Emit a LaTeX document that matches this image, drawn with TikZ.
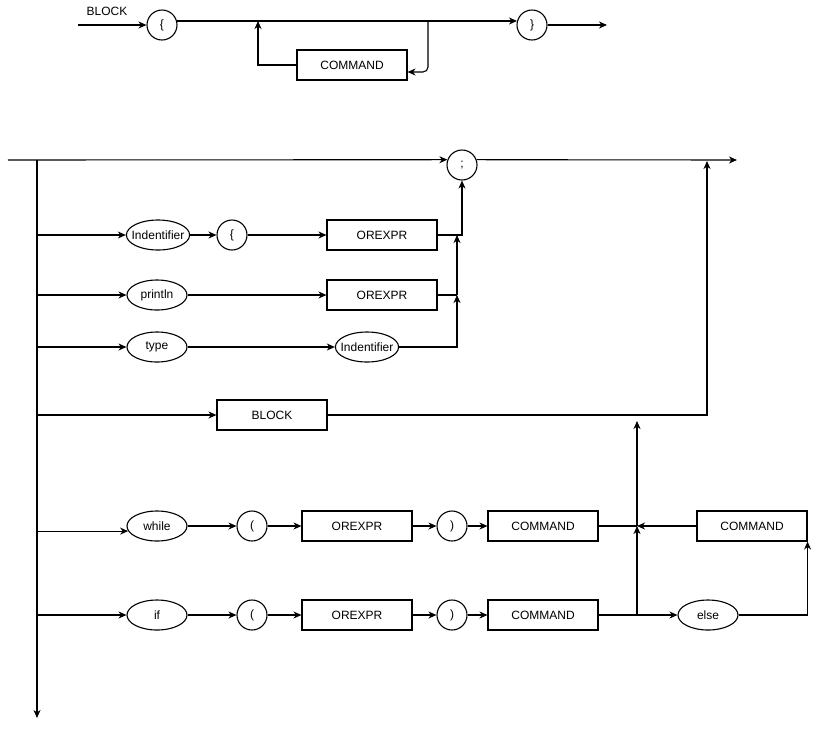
\documentclass[tikz,border=0pt]{standalone}
\usepackage{fontspec}
\setmainfont{Liberation Sans}
\usepackage{tikz}
\usetikzlibrary{arrows.meta,shapes}
\usetikzlibrary{positioning}
\usetikzlibrary{calc}
\tikzset{
    >={Stealth[length=8pt,width=7pt,inset=2.5pt]},
    term/.style={draw=black, ellipse, minimum width=60pt, minimum height=30pt,
        inner xsep=-4pt, inner ysep=0pt},
    sym/.style={draw=black, circle, minimum size=30pt, inner sep=0pt},
    nonterm/.style={draw=black, rectangle, minimum width=110pt, minimum height=30pt,
        inner sep=0pt},
}

\begin{document}
\begin{tikzpicture}[x=1pt, y=-1pt, line width=1.1pt,
    font=\fontsize{12}{14}\selectfont]
\useasboundingbox (0,0) rectangle (816,729);
% BLOCK
\node (blk) at (107,11) {BLOCK};
\coordinate (in0) at (78,25);
\coordinate (out0) at (607,25);
\node[sym] (lbr) at (162,25) {\{};
\node[sym] (rbr) at (532,25) {\}};
\node[nonterm] (cmd0) at (352,65) {COMMAND};
\coordinate (j1) at (428,21);
\coordinate (j2) at (258,21);
\draw[->] (in0) -- (lbr.west);
\draw[->] (lbr.15) -- (rbr.165);
\draw[->] (rbr.east) -- (out0);
\draw[->, rounded corners=5pt] (j1) |- ($(cmd0.east)+(0,7)$);
\draw[->] (cmd0.west) -| (j2);
% COMMAND
\coordinate (s0) at (8,160);
\coordinate (s1) at (737,160);
\coordinate (t0) at (37,160);
\coordinate (t1) at (37,718);
\node[sym] (semi) at (462,165) {;};
\draw[->] (s0) -- (semi.160);
\draw[->] (semi.20) -- (s1);
\draw[->] (t0) -- (t1);
% assignment
\node[term] (id1) at (158,235) {Indentifier};
\node[sym] (lbr2) at (232,235) {\{};
\node[nonterm] (orx1) at (382,235) {OREXPR};
\draw[->] (id1.west -| t0) -- (id1.west);
\draw[->] (id1) -- (lbr2);
\draw[->] (lbr2) -- (orx1);
% println
\node[term] (prn) at (157,295) {println};
\node[nonterm] (orx2) at (382,295) {OREXPR};
\draw[->] (prn.west -| t0) -- (prn.west);
\draw[->] (prn) -- (orx2);
% type
\node[term] (typ) at (157,347) {type};
\node[term] (id2) at (367,347) {Indentifier};
\draw[->] (typ.west -| t0) -- (typ.west);
\draw[->] (typ) -- (id2);
\coordinate (m1) at (457,235);
\coordinate (m2) at (457,295);
\draw[->] (id2.east) -| (m2);
\draw (orx2.east) -- (m2);
\draw[->] (m2) -- (m1);
\draw (orx1.east) -- (m1);
\draw[->] (m1) -| (semi.south);
% block
\node[nonterm] (blkbox) at (272,415) {BLOCK};
\coordinate (b1) at (707,161);
\draw[->] (blkbox.west -| t0) -- (blkbox.west);
\draw[->] (blkbox.east) -| (b1);
% while
\node[term] (wh) at (157,526) {while};
\node[sym] (wlp) at (252,526) {(};
\node[nonterm] (worx) at (357,526) {OREXPR};
\node[sym] (wrp) at (452,526) {)};
\node[nonterm] (wcmd) at (543,526) {COMMAND};
\node[nonterm] (ecmd) at (752,526) {COMMAND};
\draw[->] (wh.190 -| t0) -- (wh.190);
\draw[->] (wh) -- (wlp);
\draw[->] (wlp) -- (worx);
\draw[->] (worx) -- (wrp);
\draw[->] (wrp) -- (wcmd);
% if
\node[term] (iff) at (157,615) {if};
\node[sym] (ilp) at (252,615) {(};
\node[nonterm] (iorx) at (357,615) {OREXPR};
\node[sym] (irp) at (452,615) {)};
\node[nonterm] (icmd) at (543,615) {COMMAND};
\node[term] (els) at (708,615) {else};
\draw[->] (iff.west -| t0) -- (iff.west);
\draw[->] (iff) -- (ilp);
\draw[->] (ilp) -- (iorx);
\draw[->] (iorx) -- (irp);
\draw[->] (irp) -- (icmd);
\coordinate (v0) at (637,615);
\coordinate (v1) at (637,526);
\coordinate (v2) at (637,421);
\draw[->] (icmd) -- (els);
\draw[->] (v0) -- (v1);
\draw[->] (v1) -- (v2);
\draw (wcmd.east) -- (v1);
\draw[->] (ecmd.west) -- (v1);
\draw[->] (els.east) -| (ecmd.south east);
\end{tikzpicture}
\end{document}
